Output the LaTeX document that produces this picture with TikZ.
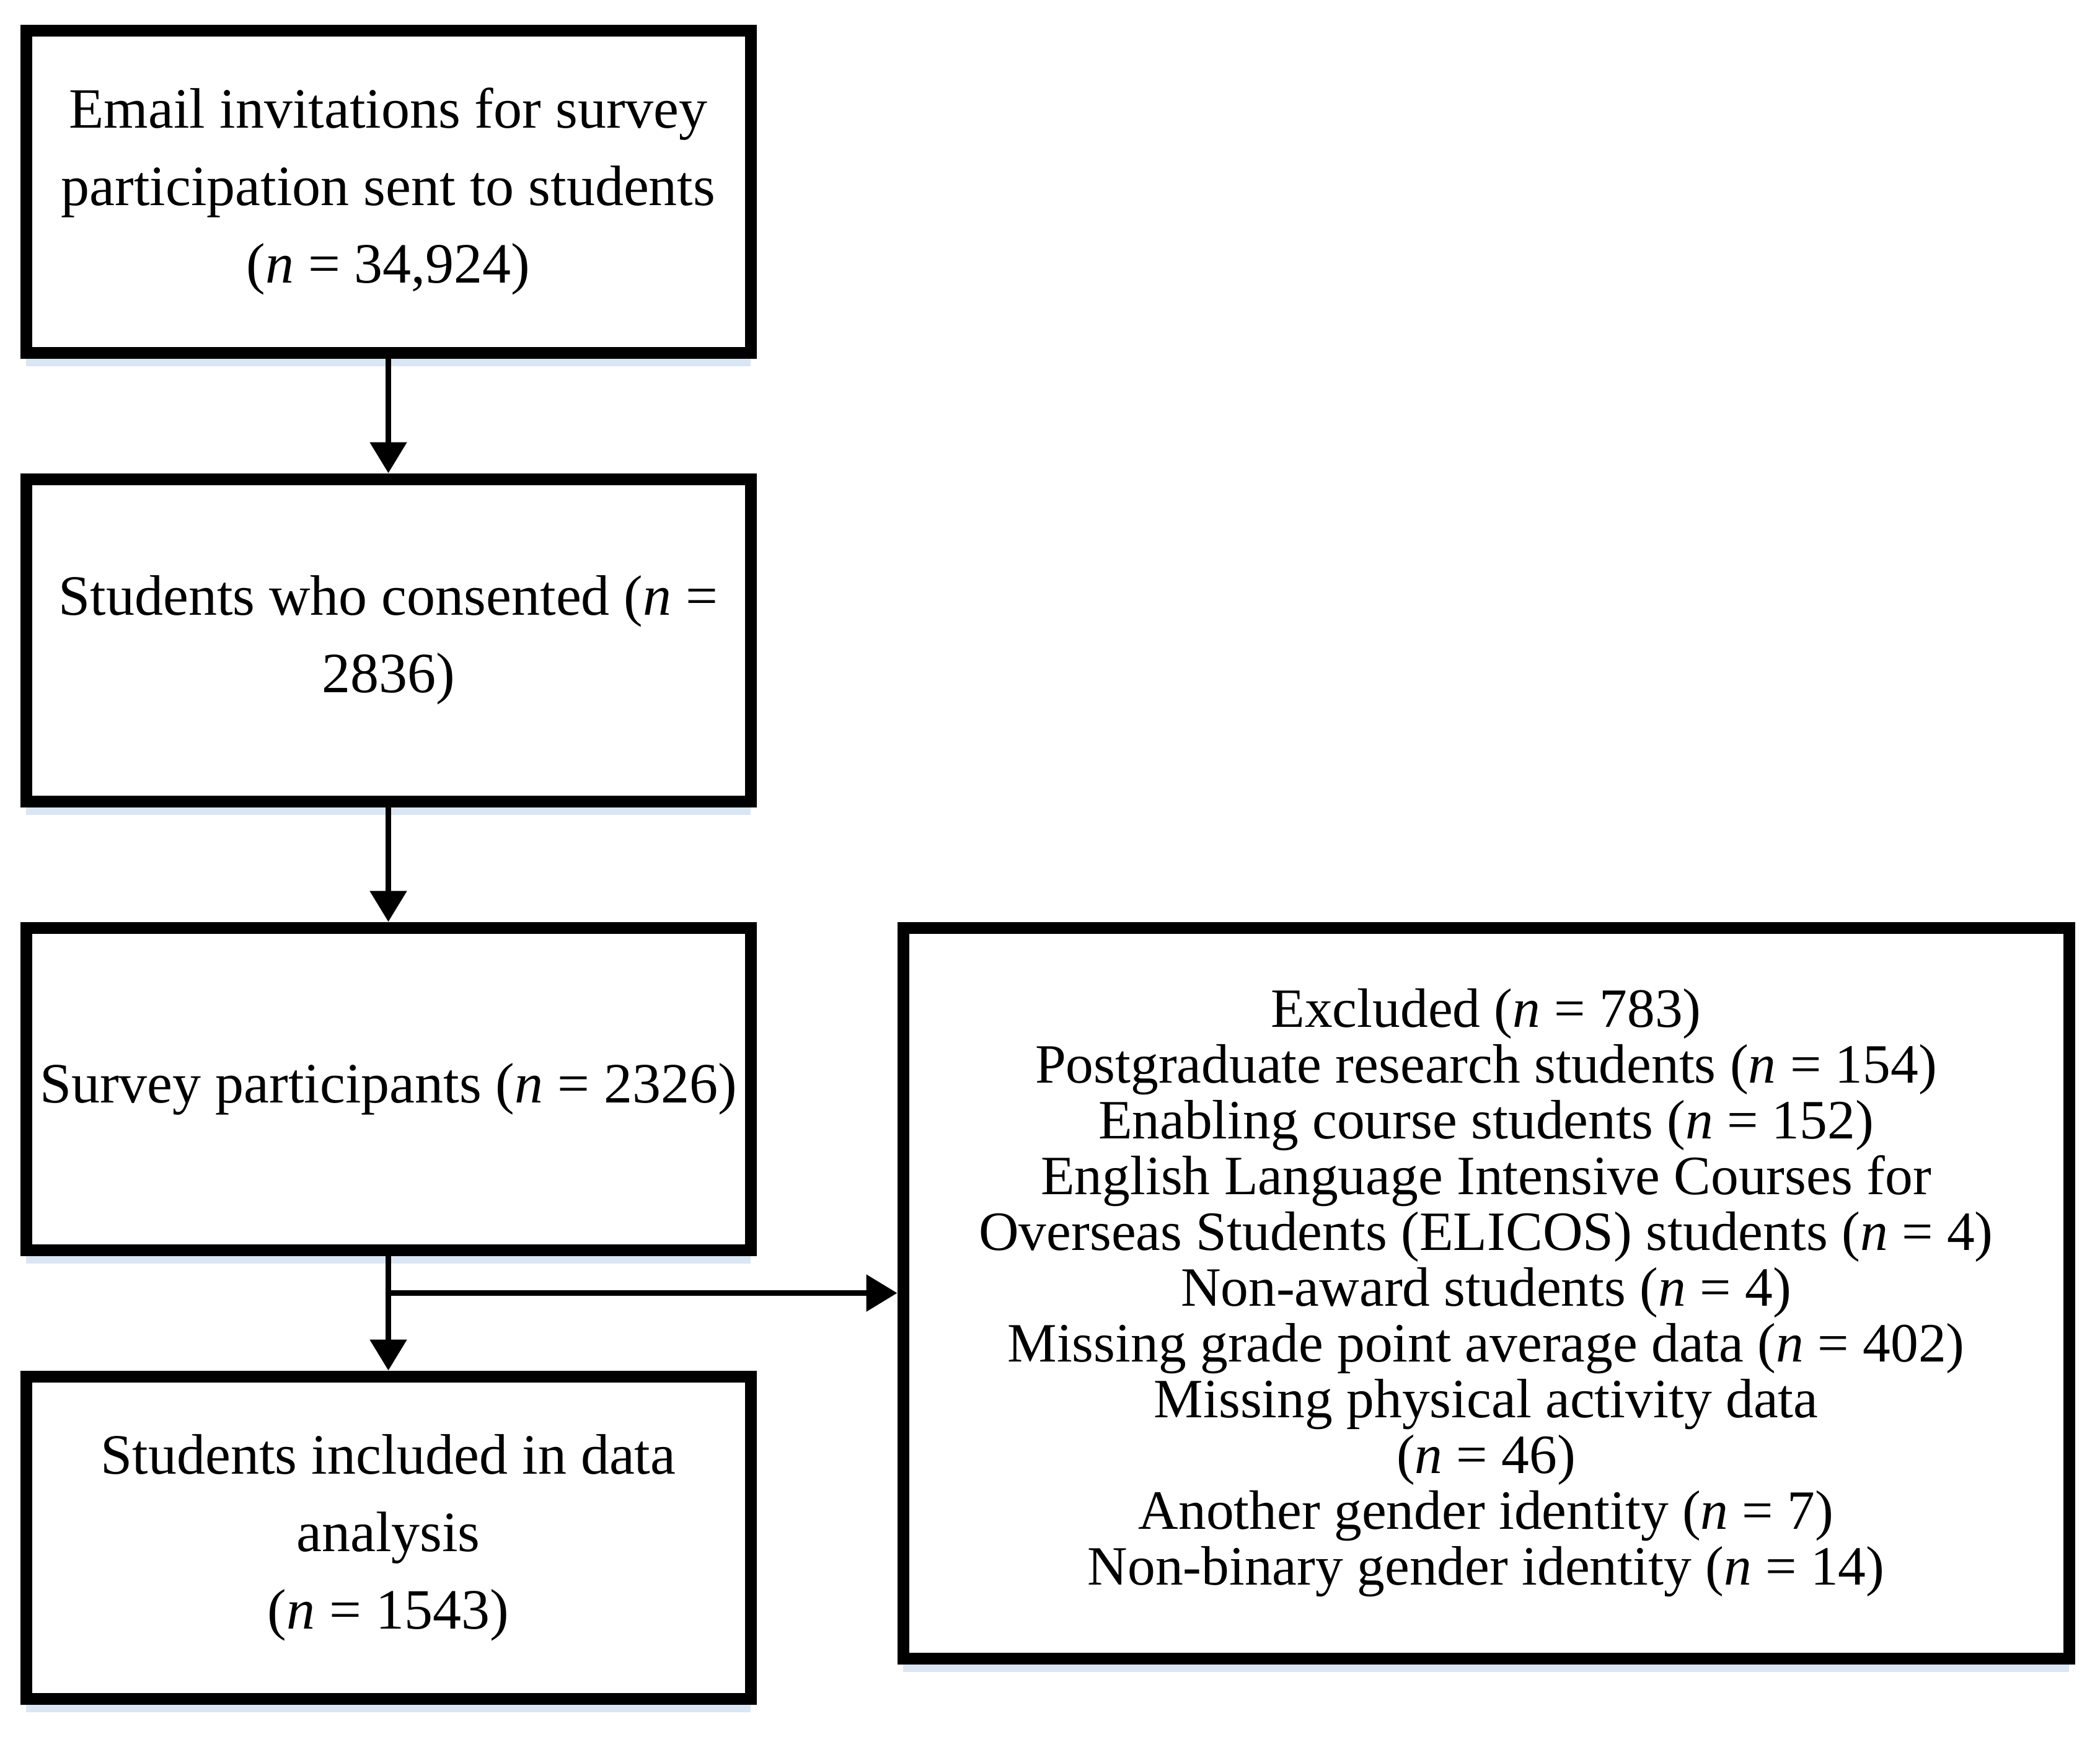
\documentclass[tikz,border=0pt]{standalone}
\usepackage{fontspec}
\setmainfont{Liberation Serif}
\usepackage{tikz}
\usetikzlibrary{arrows.meta,shadows}

\definecolor{shadowblue}{RGB}{218,230,243}

\begin{document}
\begin{tikzpicture}[node distance=72.4pt,>={Triangle[length=5pt,width=5.8pt]},auto]
		\tikzstyle{stage}=[rectangle, draw=black, line width=1.9pt, fill=white, align=center,
			minimum width=116.9pt, minimum height=52pt, inner sep=2pt, font=\fontsize{9.2}{12.5}\selectfont,
			drop shadow={shadow xshift=0pt, shadow yshift=-2.2pt, fill=shadowblue, opacity=1}]
		\tikzstyle{excluded}=[stage, minimum width=188.1pt, minimum height=117.9pt, font=\fontsize{8.95}{9.0}\selectfont]
		\tikzstyle{flow}=[->, line width=0.9pt]

		\useasboundingbox (0pt,0pt) rectangle (338.8pt,-281pt);

		\node [stage] (invite) at (62.65pt,-30.9pt) {Email invitations for survey\\participation sent to students\\(\textit{n} = 34,924)};
		\node [stage] (consent) [below of=invite] {Students who consented (\textit{n} =\\2836)};
		\node [stage] (survey) [below of=consent] {Survey participants (\textit{n} = 2326)};
		\node [stage] (final) [below of=survey] {Students included in data\\analysis\\(\textit{n} = 1543)};
		\node [excluded, anchor=north west] (excl) at ([xshift=22.7pt]survey.north east)
			{Excluded (\textit{n} = 783)\\
			Postgraduate research students (\textit{n} = 154)\\
			Enabling course students (\textit{n} = 152)\\
			English Language Intensive Courses for\\
			Overseas Students (ELICOS) students (\textit{n} = 4)\\
			Non-award students (\textit{n} = 4)\\
			Missing grade point average data (\textit{n} = 402)\\
			Missing physical activity data\\
			(\textit{n} = 46)\\
			Another gender identity (\textit{n} = 7)\\
			Non-binary gender identity (\textit{n} = 14)};

		\coordinate (split) at (survey.south |- excl.west);

		\draw [flow] (invite) -- (consent);
		\draw [flow] (consent) -- (survey);
		\draw [flow] (survey) -- (final);
		\draw [flow] (split) -- (excl.west);
	\end{tikzpicture}
\end{document}
